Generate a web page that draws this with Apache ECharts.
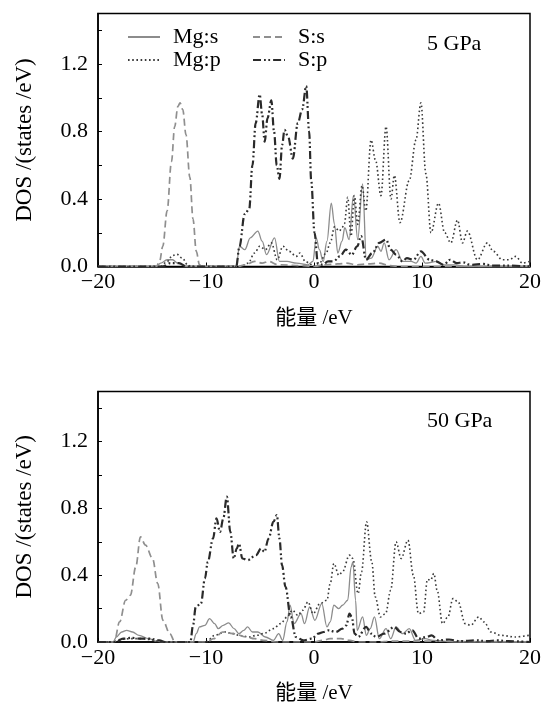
<!DOCTYPE html>
<html><head><meta charset="utf-8">
<script src="https://cdn.jsdelivr.net/npm/echarts@6/dist/echarts.min.js"></script>
<style>html,body{margin:0;padding:0;background:#fff}#c{width:544px;height:705px}</style>
</head><body><div id="c"></div>
<script>
// ---- data: [energy eV, DOS] ----
const seriesNames = ['Mg:s', 'Mg:p', 'S:s', 'S:p'];
const panelLabels = ['5 GPa', '50 GPa'];
const xTicks = [-20, -10, 0, 10, 20];
const yTicks = [0.0, 0.4, 0.8, 1.2];

const mgS_5 = [[-20,0],[-14.6,0],[-14.2,0.02],[-13.6,0.04],[-13.1,0.04],[-12.6,0.02],[-12.2,0.01],[-11.8,0],
[-7.2,0],[-6.9,0.12],[-6.4,0.10],[-5.9,0.17],[-5.2,0.21],[-4.8,0.15],[-4.4,0.07],[-3.65,0.17],[-3.2,0.03],[-2.5,0.03],[-1.6,0.02],[-0.6,0.01],[-0.1,0.03],[0.2,0.17],[0.5,0.1],[0.85,0.03],[1.2,0.15],[1.6,0.375],[1.9,0.25],[2.2,0.08],[2.6,0.15],[2.85,0.23],[3.25,0.16],[3.65,0.42],[4.05,0.16],[4.5,0.49],[4.85,0.04],[5.3,0.05],[5.9,0.12],[6.2,0.09],[6.5,0.14],[6.95,0.04],[7.6,0.1],[8.2,0.03],[9.0,0.03],[9.45,0.02],[9.9,0.06],[10.3,0.02],[11.4,0.03],[12,0.01],[13.1,0.01],[14,0],[20,0]];
const mgP_5 = [[-20,0],[-14.2,0],[-13.6,0.03],[-13.1,0.065],[-12.7,0.073],[-12.2,0.05],[-11.7,0.01],[-11.4,0],[-6.8,0],[-6.1,0.02],[-5.5,0.08],[-5.03,0.12],[-4.5,0.1],[-3.95,0.14],[-3.4,0.04],[-2.88,0.12],[-2.3,0.09],[-1.64,0.06],[-1.3,0.08],[-0.8,0.03],[-0.42,0.02],[-0.1,0],[0.5,0.02],[1.13,0.08],[1.5,0.14],[1.9,0.235],[2.35,0.21],[2.6,0.23],[2.82,0.255],[3.12,0.41],[3.43,0.18],[3.74,0.42],[4.05,0.25],[4.45,0.48],[4.8,0.33],[5.28,0.75],[5.7,0.63],[6.2,0.42],[6.67,0.83],[7.13,0.40],[7.44,0.54],[7.96,0.26],[8.82,0.51],[9.44,0.75],[9.9,0.97],[10.36,0.55],[10.83,0.2],[11.53,0.375],[12.1,0.2],[12.67,0.14],[13.29,0.275],[13.75,0.14],[14.2,0.21],[15.13,0.04],[16.06,0.14],[16.6,0.09],[17.44,0.04],[18.1,0.04],[18.68,0.06],[19.3,0.02],[19.9,0.03]];
const sS_5 = [[-20,0],[-14.6,0],[-14.3,0.03],[-14.0,0.12],[-13.6,0.33],[-13.2,0.62],[-12.9,0.83],[-12.6,0.95],[-12.4,0.97],[-12.15,0.93],[-11.85,0.78],[-11.5,0.53],[-11.2,0.28],[-10.9,0.09],[-10.6,0.01],[-10.4,0],[-7,0],[-6.4,0.01],[-5.5,0.03],[-4.8,0.02],[-4.2,0.03],[-3.3,0.01],[-1,0.005],[0,0],[1,0.01],[2.2,0.015],[3,0.02],[4,0.01],[5,0.015],[6,0.02],[7,0.005],[8,0],[20,0]];
const sP_5 = [[-20,0],[-14,0],[-13.3,0.02],[-12.5,0.02],[-11.8,0],[-7.2,0],[-6.9,0.12],[-6.42,0.31],[-6.0,0.34],[-5.7,0.6],[-5.4,0.85],[-5.03,1.02],[-4.8,0.9],[-4.57,0.74],[-4.3,0.88],[-3.95,0.985],[-3.7,0.8],[-3.45,0.6],[-3.2,0.52],[-2.95,0.72],[-2.73,0.81],[-2.4,0.77],[-1.96,0.64],[-1.5,0.85],[-1.1,0.93],[-0.72,1.07],[-0.45,0.8],[-0.26,0.51],[0.05,0.2],[0.36,0.02],[0.8,0.01],[1.3,0.03],[1.8,0.03],[2.4,0.06],[2.95,0.1],[3.5,0.07],[4.0,0.12],[4.36,0.18],[4.82,0.04],[5.4,0.08],[6.05,0.14],[6.67,0.16],[7.1,0.1],[7.6,0.07],[8.2,0.03],[8.6,0.05],[9.2,0.04],[9.9,0.09],[10.7,0.04],[11.3,0.03],[12,0.01],[12.6,0.04],[13.2,0.02],[13.8,0.025],[14.5,0.01],[15.7,0.015],[16.5,0.005],[18,0.005],[20,0]];

const mgS_50 = [[-20,0],[-18.6,0],[-18.3,0.03],[-17.8,0.06],[-17.35,0.07],[-16.8,0.06],[-16.2,0.04],[-15.3,0.02],[-14.6,0.005],[-14,0],[-11.2,0],[-10.9,0.05],[-10.6,0.09],[-10.1,0.1],[-9.67,0.14],[-9.2,0.11],[-8.87,0.08],[-8.4,0.1],[-7.9,0.115],[-7.4,0.08],[-6.95,0.05],[-6.5,0.07],[-6.15,0.09],[-5.7,0.06],[-5.2,0.06],[-4.5,0.03],[-3.76,0.01],[-3.27,0.05],[-2.9,0.01],[-2.5,0.12],[-2.22,0.22],[-1.84,0.11],[-1.2,0.17],[-0.88,0.11],[-0.4,0.21],[0.08,0.13],[0.72,0.23],[1.2,0.09],[1.5,0.12],[1.84,0.22],[2.3,0.2],[2.64,0.22],[3.12,0.25],[3.44,0.45],[3.6,0.48],[3.85,0.25],[4.0,0.07],[4.5,0.15],[4.85,0.04],[5.2,0.08],[5.6,0.15],[6.05,0.02],[6.67,0.08],[7.1,0.02],[7.6,0.09],[8.2,0.05],[8.82,0.08],[9.4,0.01],[10.3,0.02],[11,0.01],[12,0.005],[13,0],[20,0]];
const mgP_50 = [[-20,0],[-18.6,0],[-18,0.015],[-17,0.02],[-16,0.02],[-15.2,0.015],[-14.5,0.005],[-14,0],[-10,0],[-9.2,0.04],[-8.24,0.06],[-7.5,0.05],[-6.95,0.04],[-6.0,0.03],[-5.3,0.04],[-4.7,0.05],[-3.76,0.08],[-3.1,0.11],[-2.48,0.15],[-2.0,0.19],[-1.5,0.16],[-1.04,0.19],[-0.56,0.24],[-0.08,0.17],[0.56,0.23],[1.2,0.25],[1.5,0.35],[1.84,0.47],[2.3,0.40],[2.64,0.42],[3.28,0.52],[3.6,0.50],[4.08,0.29],[4.4,0.42],[4.87,0.72],[5.35,0.48],[5.67,0.27],[6.15,0.15],[6.63,0.17],[7.1,0.31],[7.6,0.60],[8.07,0.50],[8.7,0.61],[9.2,0.40],[9.67,0.17],[10.15,0.18],[10.5,0.375],[10.8,0.37],[11.1,0.41],[11.4,0.31],[11.9,0.11],[12.4,0.15],[12.87,0.26],[13.35,0.24],[14.0,0.11],[14.5,0.10],[15.26,0.15],[15.75,0.12],[16.4,0.06],[17.3,0.04],[18.6,0.03],[19.9,0.04]];
const sS_50 = [[-20,0],[-18.5,0],[-18,0.12],[-17.44,0.25],[-17.0,0.28],[-16.5,0.45],[-16.07,0.63],[-15.6,0.58],[-14.95,0.5],[-14.47,0.35],[-13.99,0.13],[-13.35,0.05],[-12.87,0],[-9.9,0],[-9.3,0.02],[-8.45,0.06],[-7.5,0.05],[-6.27,0.03],[-5.5,0.02],[-4.7,0.01],[-3.5,0],[0,0],[0.8,0.01],[1.5,0.02],[2.5,0.02],[3.3,0.01],[4,0],[6,0],[7,0.005],[9,0.005],[20,0]];
const sP_50 = [[-20,0],[-18.4,0],[-17.67,0.02],[-16.8,0.025],[-16.2,0.02],[-15.2,0.02],[-14.3,0.01],[-13.8,0],[-11.45,0],[-11.2,0.1],[-10.95,0.21],[-10.47,0.23],[-10.1,0.38],[-9.83,0.48],[-9.35,0.62],[-9.03,0.74],[-8.7,0.66],[-8.4,0.74],[-8.07,0.87],[-7.75,0.66],[-7.43,0.50],[-7.15,0.56],[-6.95,0.59],[-6.63,0.50],[-6.15,0.49],[-5.36,0.52],[-4.9,0.56],[-4.6,0.54],[-4.2,0.62],[-3.76,0.72],[-3.44,0.76],[-3.2,0.62],[-2.96,0.46],[-2.64,0.33],[-2.16,0.15],[-1.68,0.03],[-1,0.01],[-0.2,0.02],[0.4,0.05],[0.9,0.06],[1.36,0.07],[2.0,0.06],[2.64,0.08],[3.0,0.1],[3.28,0.17],[3.5,0.15],[3.76,0.05],[4.08,0.03],[4.82,0.09],[5.3,0.05],[5.75,0.03],[6.5,0.05],[7.43,0.09],[8.0,0.06],[8.5,0.05],[9.1,0.07],[9.7,0.02],[10.4,0.03],[10.9,0.04],[11.5,0.01],[12.5,0.015],[13.5,0.005],[15,0.01],[16,0.005],[17,0.01],[18,0.005],[20,0]];

// ---- styles ----
const FONT = "'Liberation Serif', serif";
const CJK = "'Liberation Serif', 'Noto Sans CJK SC', serif";
const styles = {
  'Mg:s': {color:'#8c8c8c', width:1.3, type:'solid'},
  'Mg:p': {color:'#3a3a3a', width:1.6, type:[1.6,2.6]},
  'S:s':  {color:'#8f8f8f', width:1.7, type:[7,4]},
  'S:p':  {color:'#2a2a2a', width:2.2, type:[8,3,1.8,2.5,1.8,3]}
};
const panels = [
  {top:13.5, data:{'Mg:s':mgS_5,'Mg:p':mgP_5,'S:s':sS_5,'S:p':sP_5}},
  {top:391.5, data:{'Mg:s':mgS_50,'Mg:p':mgP_50,'S:s':sS_50,'S:p':sP_50}}
];

const grids=[], xAxes=[], yAxes=[], series=[];
panels.forEach((p,i)=>{
  grids.push({left:98, top:p.top, width:433, height:253, show:true, borderColor:'#000', borderWidth:1.5, backgroundColor:'transparent'});
  xAxes.push({type:'value', gridIndex:i, min:xTicks[0], max:xTicks[xTicks.length-1], interval:10,
    axisLine:{show:true, onZero:false, lineStyle:{color:'#000', width:1.5}},
    axisTick:{show:true, inside:true, length:4, lineStyle:{color:'#000'}},
    splitLine:{show:false},
    axisLabel:{color:'#000', fontFamily:FONT, fontSize:22, margin:5,
      formatter:v=>xTicks.includes(v)?String(v).replace('-','\u2212'):''},
    name:'能量 /eV', nameLocation:'middle', nameGap:41,
    nameTextStyle:{color:'#000', fontFamily:CJK, fontSize:21}
  });
  yAxes.push({type:'value', gridIndex:i, min:0, max:1.5, interval:0.2,
    axisLine:{show:true, onZero:false, lineStyle:{color:'#000', width:1.5}},
    axisTick:{show:true, inside:true, length:4, lineStyle:{color:'#000'}},
    splitLine:{show:false},
    axisLabel:{color:'#000', fontFamily:FONT, fontSize:22, margin:10, showMaxLabel:false,
      formatter:v=>{const t=yTicks.find(k=>Math.abs(k-v)<1e-6);return t===undefined?'':t.toFixed(1);}},
    name:'DOS /(states /eV)', nameLocation:'middle', nameGap:62, nameRotate:90,
    nameTextStyle:{color:'#000', fontFamily:FONT, fontSize:23}
  });
  seriesNames.forEach(n=>{
    const s=styles[n];
    series.push({name:n, type:'line', xAxisIndex:i, yAxisIndex:i, data:p.data[n],
      symbol:'none', smooth:0.35, smoothMonotone:'x', z:(n==='S:p'?5:3),
      lineStyle:{color:s.color, width:s.width, type:s.type}, itemStyle:{color:s.color}});
  });
});

const legendCommon = {orient:'vertical', itemWidth:32, itemHeight:14, itemGap:1, padding:0,
  itemStyle:{opacity:0},
  textStyle:{fontFamily:FONT, fontSize:22, color:'#000', padding:[0,0,0,8], lineHeight:22}};

const chart = echarts.init(document.getElementById('c'), null, {renderer:'canvas'});
chart.setOption({
  animation:false,
  backgroundColor:'#fff',
  grid:grids, xAxis:xAxes, yAxis:yAxes, series:series,
  legend:[
    Object.assign({}, legendCommon, {left:127, top:26, data:['Mg:s','Mg:p']}),
    Object.assign({}, legendCommon, {left:252, top:26, data:['S:s','S:p']})
  ],
  graphic:[
    {type:'text', left:427, top:33, style:{text:panelLabels[0], font:'22px '+FONT, fill:'#000'}},
    {type:'text', left:427, top:410, style:{text:panelLabels[1], font:'22px '+FONT, fill:'#000'}}
  ]
});
</script></body></html>
